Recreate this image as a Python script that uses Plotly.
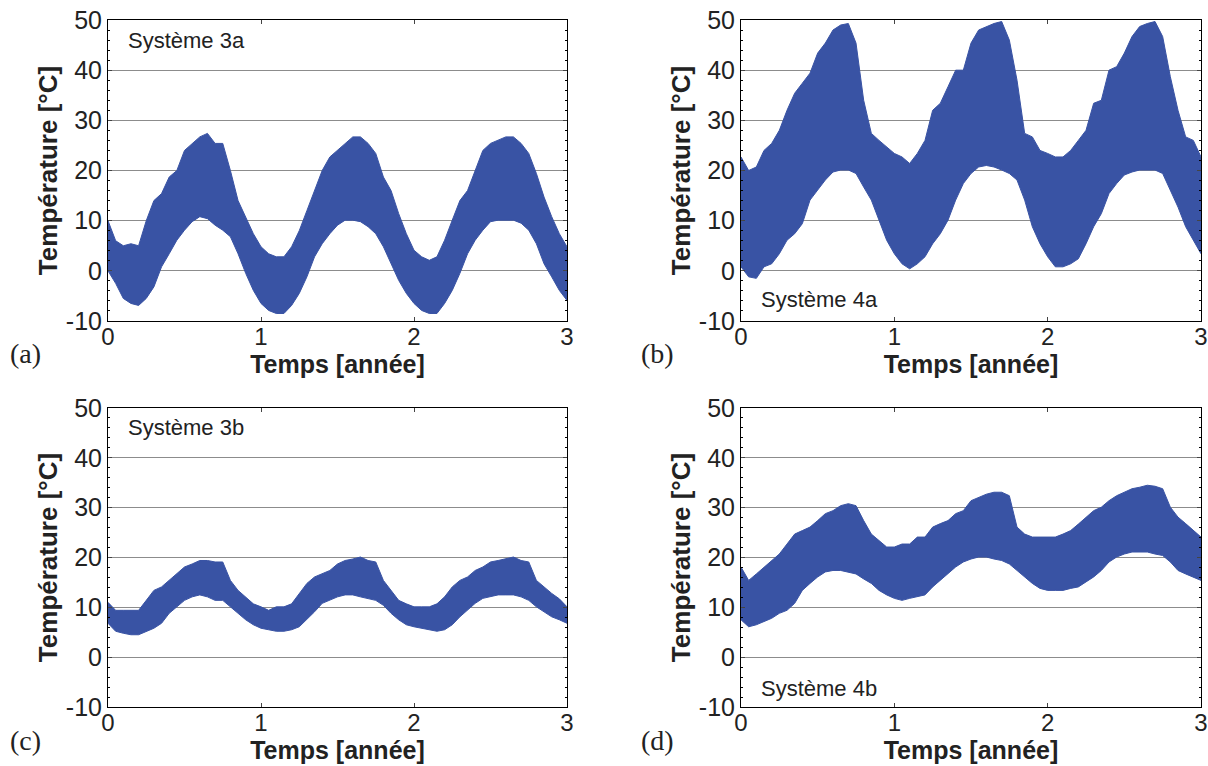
import plotly.graph_objects as go
from plotly.subplots import make_subplots

# time axis, every 0.05 year
temps = [round(i * 0.05, 2) for i in range(61)]

# envelope of the hourly temperature (upper / lower)
haut_3a = [10, 6, 5, 5.4, 5, 10, 14, 15.4, 18.7, 20, 24, 25.4, 26.7, 27.4, 25.4, 25.4, 20, 14, 10.8, 7.4,
           4.8, 3.4, 2.8, 2.8, 4.8, 8, 12, 16, 20, 22.7, 24, 25.4, 26.7, 26.7, 25.4, 23.4, 18.7, 16, 11.4, 7.4,
           4.1, 2.8, 2.1, 2.8, 6.1, 10.1, 14, 16, 20, 24, 25.4, 26, 26.7, 26.7, 25.4, 23.4, 19.4, 14.7, 10.8, 7.4,
           4.8]
bas_3a = [0, -2.5, -5.5, -6.5, -6.9, -5.5, -3.2, 0.8, 3.4, 6.1, 8.1, 9.8, 10.8, 10.4, 9.1, 8.1, 6.8, 3.4, -0.5, -3.9,
          -6.5, -7.9, -8.5, -8.5, -6.9, -4.5, -1.2, 2.8, 5.4, 7.4, 9.1, 10.1, 10.1, 9.8, 8.8, 7.4, 4.8, 1.4, -1.9, -4.5,
          -6.5, -7.9, -8.5, -8.5, -6.5, -3.9, -0.5, 3.4, 6.1, 8.1, 9.8, 10.1, 10.1, 10.1, 9.5, 8.1, 5.4, 1.4, -1.2, -3.9,
          -5.9]

haut_4a = [22.7, 20, 20.7, 24, 25.4, 28, 32, 35.4, 37.4, 39.4, 43.4, 45.4, 48, 49, 49.3, 45.4, 34, 27.4, 26, 24.7,
           23.4, 22.7, 21.4, 23.4, 26, 32, 33.4, 36.7, 40, 40, 45.4, 48, 48.7, 49.3, 49.7, 46, 38, 27.4, 26.7, 24,
           23.4, 22.7, 22.7, 24, 26, 28, 33.4, 34, 40, 40.7, 43.4, 46.7, 48.7, 49.3, 49.7, 46.7, 38.7, 32, 26.7, 26,
           22.7]
bas_4a = [0.8, -1.2, -1.5, 0.8, 1.4, 3.4, 6.1, 7.4, 9.4, 14.1, 16.1, 18.1, 19.7, 20.1, 20.1, 19.4, 16.7, 14.1, 10.1, 6.1,
          3.4, 1.4, 0.4, 1.4, 2.8, 5.4, 7.4, 10.1, 14.1, 17.4, 19.4, 20.7, 21, 20.7, 20.1, 19.4, 18.1, 14.1, 8.8, 5.4,
          2.8, 0.8, 0.8, 1.4, 2.4, 5.4, 8.8, 11.4, 15.4, 17.4, 19.1, 19.7, 20.1, 20.1, 20.1, 19.4, 16.1, 12.7, 8.8, 6.1,
          3.4]

haut_3b = [11, 9.4, 9.4, 9.4, 9.4, 11.4, 13.4, 14.1, 15.4, 16.7, 18.1, 18.7, 19.4, 19.4, 19.1, 19.1, 15.4, 13.4, 12.1, 10.7,
           10.1, 9.4, 10.1, 10.1, 10.7, 12.8, 14.8, 16.1, 16.7, 17.4, 18.7, 19.4, 19.7, 20.1, 19.4, 19.1, 15.4, 13.4, 11.4, 10.7,
           10.1, 10.1, 10.1, 10.7, 12.1, 14.1, 15.4, 16.1, 17.4, 18.1, 19.1, 19.4, 19.7, 20.1, 19.4, 19.1, 15.4, 14.1, 12.8, 11.7,
           10.1]
bas_3b = [6.8, 5.2, 4.8, 4.5, 4.5, 5.2, 5.8, 6.8, 8.8, 10.1, 11.4, 12.1, 12.5, 12.1, 11.4, 11.4, 10.1, 8.8, 7.5, 6.5,
          5.8, 5.5, 5.2, 5.2, 5.5, 6.1, 7.5, 9.1, 10.8, 11.4, 12.1, 12.5, 12.5, 12.1, 11.8, 11.4, 10.4, 8.8, 7.5, 6.5,
          6.1, 5.8, 5.5, 5.2, 5.5, 6.5, 8.1, 9.4, 10.8, 11.8, 12.1, 12.5, 12.5, 12.5, 12.1, 11.4, 10.1, 9.1, 8.1, 7.5,
          6.8]

haut_4b = [18.1, 15.4, 16.7, 18.1, 19.4, 20.7, 22.7, 24.7, 25.4, 26.1, 27.4, 28.8, 29.4, 30.4, 30.8, 30.4, 27.4, 24.7, 23.4, 22.1,
           22.1, 22.7, 22.7, 24.1, 24.1, 26.1, 26.8, 27.4, 28.8, 29.4, 31.4, 32.1, 32.7, 33.1, 33.1, 32.4, 26.1, 24.7, 24.1, 24.1,
           24.1, 24.1, 24.7, 25.4, 26.7, 28.1, 29.4, 30.1, 31.4, 32.4, 33.1, 33.8, 34.1, 34.5, 34.3, 33.8, 30.1, 28.1, 26.8, 25.4,
           24.1]
bas_4b = [7.5, 6.1, 6.5, 7.2, 7.8, 8.8, 9.4, 10.8, 13.4, 14.8, 16.1, 17.1, 17.4, 17.4, 17.1, 16.7, 15.7, 14.8, 13.4, 12.5,
          11.8, 11.4, 11.8, 12.1, 12.5, 14.1, 15.4, 16.7, 18.1, 19.1, 19.7, 20.1, 20.1, 19.7, 19.4, 18.7, 17.4, 16.1, 14.8, 13.8,
          13.4, 13.4, 13.4, 13.8, 14.1, 15.1, 16.1, 17.4, 19.1, 20.1, 20.7, 21.1, 21.1, 21.1, 20.7, 20.4, 19.1, 17.4, 16.7, 16.1,
          15.4]

systemes = ["Système 3a", "Système 4a", "Système 3b", "Système 4b"]
lettres = ["(a)", "(b)", "(c)", "(d)"]
y_ticks = [-10, 0, 10, 20, 30, 40, 50]
y_ticktext = ["-10", "0", "10", "20", "30", "40", "50"]
x_ticks = [0, 1, 2, 3]

BLEU = "#3953a4"
W, H = 1208, 766

fig = make_subplots(rows=2, cols=2)

series = [(haut_3a, bas_3a, 1, 1), (haut_4a, bas_4a, 1, 2),
          (haut_3b, bas_3b, 2, 1), (haut_4b, bas_4b, 2, 2)]
for haut, bas, r, c in series:
    fig.add_trace(go.Scatter(x=temps, y=bas, mode="lines", line=dict(color=BLEU, width=1),
                             showlegend=False, hoverinfo="skip"), row=r, col=c)
    fig.add_trace(go.Scatter(x=temps, y=haut, mode="lines", line=dict(color=BLEU, width=1),
                             fill="tonexty", fillcolor=BLEU, showlegend=False), row=r, col=c)

# panel positions (pixels in the 1208x766 page)
x_dom = [(108 / W, 567 / W), (741 / W, 1201 / W)]
y_dom = [(1 - 321 / H, 1 - 20 / H), (1 - 707 / H, 1 - 408 / H)]

font_fam = "Liberation Sans, Arial, sans-serif"
for r in (1, 2):
    for c in (1, 2):
        fig.update_xaxes(domain=x_dom[c - 1], range=[0, 3], tickvals=x_ticks, automargin=False,
                         showline=True, linecolor="black", linewidth=1, mirror="ticks",
                         ticks="inside", ticklen=4, showgrid=False, zeroline=False,
                         ticklabelstandoff=-6,
                         tickfont=dict(size=24, color="#222", family=font_fam),
                         title=dict(text="<b>Temps [année]</b>", standoff=0,
                                    font=dict(size=25, color="#222", family=font_fam)),
                         row=r, col=c)
        fig.update_yaxes(domain=y_dom[r - 1], range=[-10, 50], tickvals=y_ticks, ticktext=y_ticktext,
                         automargin=False,
                         showline=True, linecolor="black", linewidth=1, mirror="ticks",
                         ticks="inside", ticklen=4, showgrid=True, gridcolor="#8c8c8c",
                         gridwidth=1, zeroline=False,
                         minor=dict(dtick=2, ticks="inside", ticklen=2, tickcolor="black", showgrid=False),
                         tickfont=dict(size=25, color="#222", family=font_fam),
                         title=dict(text="<b>Température [°C]</b>", standoff=0,
                                    font=dict(size=26, color="#222", family=font_fam)),
                         row=r, col=c)

# system labels inside the panels
pos_sys = [(0.12, 46, 1), (0.12, -5.8, 2), (0.12, 46, 3), (0.12, -6.2, 4)]
for (xx, yy, k), txt in zip(pos_sys, systemes):
    sfx = "" if k == 1 else str(k)
    fig.add_annotation(x=xx, y=yy, xref="x" + sfx, yref="y" + sfx, text=txt, showarrow=False,
                       xanchor="left", yanchor="middle",
                       font=dict(size=22, color="#222", family=font_fam))

# panel letters
pos_let = [(25, 353), (657, 353), (25, 740), (657, 740)]
for (px, py), txt in zip(pos_let, lettres):
    fig.add_annotation(x=px / W, y=1 - py / H, xref="paper", yref="paper", text=txt, showarrow=False,
                       xanchor="center", yanchor="middle",
                       font=dict(size=28, color="#222", family="Liberation Serif, Times New Roman, serif"))

fig.update_layout(width=W, height=H, margin=dict(l=0, r=0, t=0, b=0),
                  plot_bgcolor="white", paper_bgcolor="white", showlegend=False)

# no page margin so the figure fills the 1208x766 window exactly
fig.write_html("out.html", config={"displayModeBar": False},
               post_script="document.body.style.margin='0';")
